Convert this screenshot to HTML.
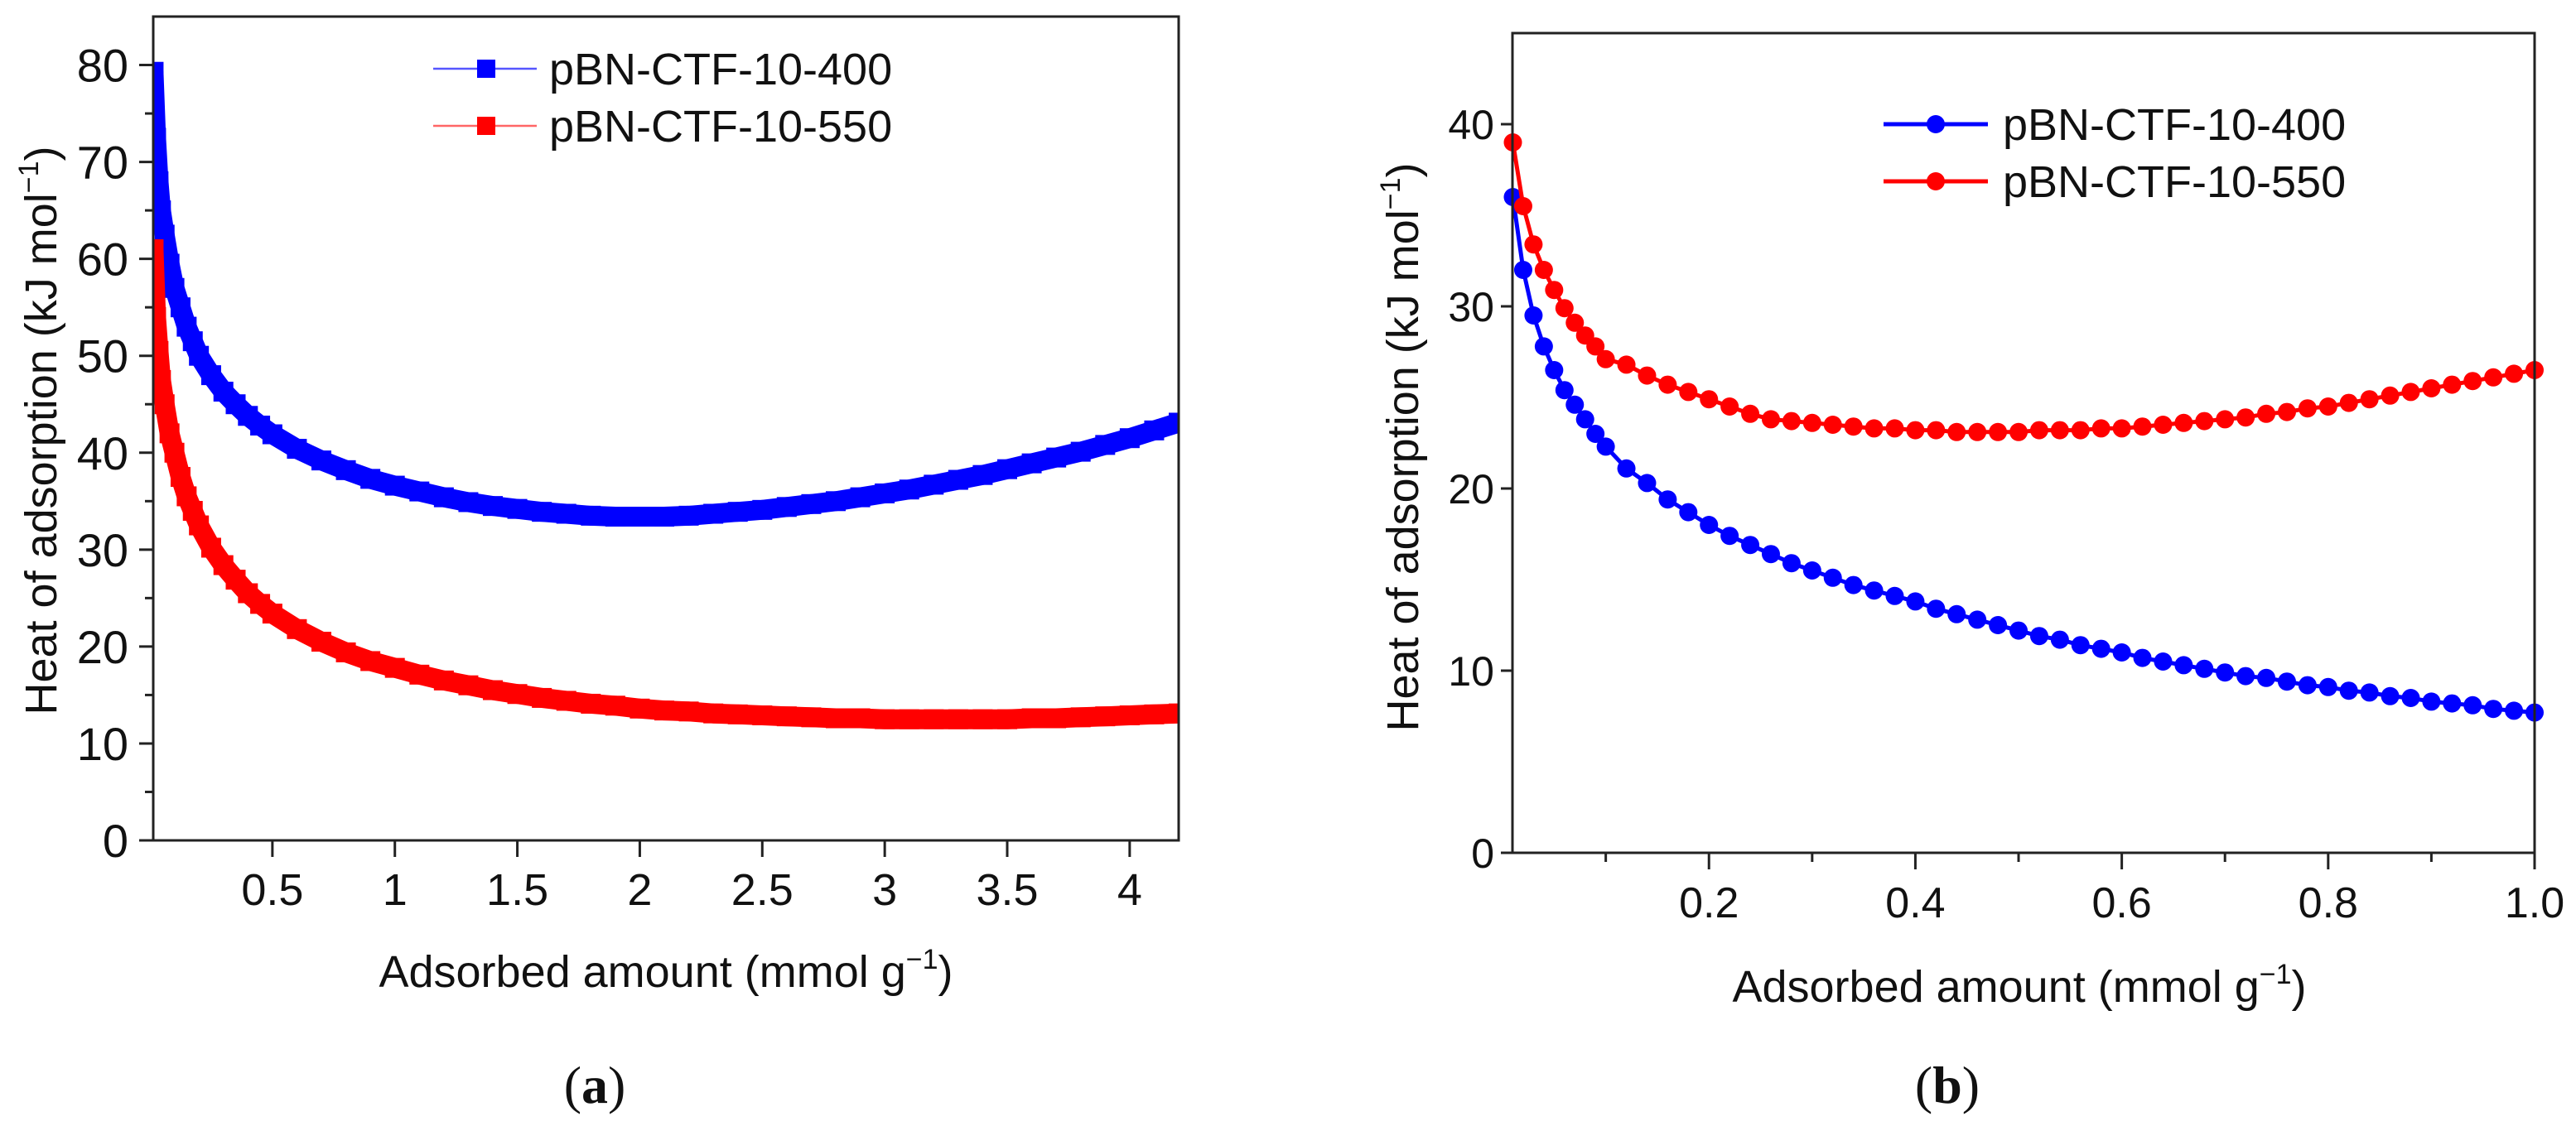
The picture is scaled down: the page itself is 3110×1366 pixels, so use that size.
<!DOCTYPE html>
<html><head><meta charset="utf-8">
<style>
html,body{margin:0;padding:0;background:#fff;}
svg{display:block;font-family:"Liberation Sans",sans-serif;}
</style></head>
<body>
<svg id="fig" width="3110" height="1366" viewBox="0 0 3110 1366" xmlns="http://www.w3.org/2000/svg"></svg>
<script>
// ---- Panel (a) data ----
const aX = [0.015,0.025,0.035,0.045,0.06,0.08,0.1,0.125,0.15,0.175,0.2,0.25,0.3,0.35,0.4,0.45,0.5,0.6,0.7,0.8,0.9,1.0,1.1,1.2,1.3,1.4,1.5,1.6,1.7,1.8,1.9,2.0,2.1,2.2,2.3,2.4,2.5,2.6,2.7,2.8,2.9,3.0,3.1,3.2,3.3,3.4,3.5,3.6,3.7,3.8,3.9,4.0,4.1,4.2];
const aBlue = [79.3,72.5,68,65,62.5,59.5,57,55,53,51.5,50,48,46.3,45,43.8,42.8,41.9,40.4,39.2,38.2,37.3,36.6,36,35.4,34.9,34.5,34.2,33.9,33.7,33.5,33.4,33.4,33.4,33.5,33.7,33.9,34.1,34.4,34.7,35.0,35.4,35.8,36.2,36.7,37.2,37.7,38.3,38.9,39.5,40.1,40.8,41.5,42.3,43.1];
const aRed = [61,54,50.5,47.5,45,42,40,37.5,35.5,34,32.5,30.2,28.4,26.9,25.5,24.4,23.4,21.8,20.5,19.4,18.5,17.8,17.1,16.5,16,15.5,15.1,14.7,14.4,14.1,13.9,13.6,13.4,13.3,13.1,13,12.9,12.8,12.7,12.6,12.6,12.5,12.5,12.5,12.5,12.5,12.5,12.6,12.6,12.7,12.8,12.9,13.0,13.1];
const aXTicks = [0.5,1,1.5,2,2.5,3,3.5,4];
const aXTickLabels = ["0.5","1","1.5","2","2.5","3","3.5","4"];
const aYTicks = [0,10,20,30,40,50,60,70,80];
const aYMinor = [5,15,25,35,45,55,65,75];
const aSeriesNames = ["pBN-CTF-10-400","pBN-CTF-10-550"];

// ---- Panel (b) data ----
const bX = [0.01,0.02,0.03,0.04,0.05,0.06,0.07,0.08,0.09,0.1,0.12,0.14,0.16,0.18,0.2,0.22,0.24,0.26,0.28,0.3,0.32,0.34,0.36,0.38,0.4,0.42,0.44,0.46,0.48,0.5,0.52,0.54,0.56,0.58,0.6,0.62,0.64,0.66,0.68,0.7,0.72,0.74,0.76,0.78,0.8,0.82,0.84,0.86,0.88,0.9,0.92,0.94,0.96,0.98,1.0];
const bBlue = [36,32,29.5,27.8,26.5,25.4,24.6,23.8,23.0,22.3,21.1,20.3,19.4,18.7,18.0,17.4,16.9,16.4,15.9,15.5,15.1,14.7,14.4,14.1,13.8,13.4,13.1,12.8,12.5,12.2,11.9,11.7,11.4,11.2,11.0,10.7,10.5,10.3,10.1,9.9,9.7,9.6,9.4,9.2,9.1,8.9,8.8,8.6,8.5,8.3,8.2,8.1,7.9,7.8,7.7];
const bRed = [39.0,35.5,33.4,32.0,30.9,29.9,29.1,28.4,27.8,27.1,26.8,26.2,25.7,25.3,24.9,24.5,24.1,23.8,23.7,23.6,23.5,23.4,23.3,23.3,23.2,23.2,23.1,23.1,23.1,23.1,23.2,23.2,23.2,23.3,23.3,23.4,23.5,23.6,23.7,23.8,23.9,24.1,24.2,24.4,24.5,24.7,24.9,25.1,25.3,25.5,25.7,25.9,26.1,26.3,26.5];
const bXTicks = [0.2,0.4,0.6,0.8,1.0];
const bXTickLabels = ["0.2","0.4","0.6","0.8","1.0"];
const bXMinor = [0.1,0.3,0.5,0.7,0.9];
const bYTicks = [0,10,20,30,40];

const NS = "http://www.w3.org/2000/svg";
const svg = document.getElementById("fig");
function mk(tag, attrs, parent, text){
  const e = document.createElementNS(NS, tag);
  for (const k in attrs) e.setAttribute(k, attrs[k]);
  if (text !== undefined) e.textContent = text;
  (parent || svg).appendChild(e);
  return e;
}

// ---------- Panel (a) ----------
const A = {l:185, r:1423, t:20, b:1015, xmin:0.0135, xmax:4.2, ymin:0, ymax:85};
const ax = v => A.l + (v - A.xmin) / (A.xmax - A.xmin) * (A.r - A.l);
const ay = v => A.b - (v - A.ymin) / (A.ymax - A.ymin) * (A.b - A.t);
const gA = mk("g", {});



function bandSeries(g, xs, ys, color, name){
  const gs = mk("g", {}, g);
  
  
  let d = "";
  xs.forEach((x,i)=>{ d += (i?"L":"M") + ax(x).toFixed(1) + " " + ay(ys[i]).toFixed(1); });
  const p = mk("path", {d:d, fill:"none", stroke:color, "stroke-width":24, "stroke-linejoin":"round"}, gs);
  
  
  xs.forEach((x,i)=>{
    const r = mk("rect", {x:ax(x)-12, y:ay(ys[i])-12, width:24, height:24, fill:color}, gs);
    
    
  });
}
const clipA = mk("clipPath", {id:"clipA"});
mk("rect", {x:A.l, y:A.t, width:A.r-A.l, height:A.b-A.t}, clipA);
const plotA = mk("g", {"clip-path":"url(#clipA)"}, gA);
bandSeries(plotA, aX, aBlue, "#0000ff", "series-a-400");
bandSeries(plotA, aX, aRed, "#ff0000", "series-a-550");

const frameA = mk("rect", {x:A.l, y:A.t, width:A.r-A.l, height:A.b-A.t, fill:"none", stroke:"#222", "stroke-width":3}, gA);



aYTicks.forEach(v=>{
  const t = mk("line", {x1:A.l-17, x2:A.l, y1:ay(v), y2:ay(v), stroke:"#222", "stroke-width":3}, gA);
  
  
  const l = mk("text", {x:A.l-30, y:ay(v)+20, "font-size":56, "text-anchor":"end", fill:"#111"}, gA, String(v));
  
  
});
aYMinor.forEach(v=>{
  const t = mk("line", {x1:A.l-10, x2:A.l, y1:ay(v), y2:ay(v), stroke:"#222", "stroke-width":3}, gA);
  
  
});
aXTicks.forEach((v,i)=>{
  const t = mk("line", {x1:ax(v), x2:ax(v), y1:A.b, y2:A.b+20, stroke:"#222", "stroke-width":3}, gA);
  
  
  const l = mk("text", {x:ax(v), y:A.b+78, "font-size":54, "text-anchor":"middle", fill:"#111"}, gA, aXTickLabels[i]);
  
  
});
const xtA = mk("text", {x:804, y:1192, "font-size":54, "text-anchor":"middle", fill:"#111"}, gA);


xtA.innerHTML = 'Adsorbed amount (mmol g<tspan dy="-22" font-size="34">−1</tspan><tspan dy="22">)</tspan>';
const ytA = mk("text", {x:0, y:0, "font-size":54, "text-anchor":"middle", fill:"#111", transform:"translate(68,520) rotate(-90)"}, gA);


ytA.innerHTML = 'Heat of adsorption (kJ mol<tspan dy="-22" font-size="34">−1</tspan><tspan dy="22">)</tspan>';

// legend a
const legA = mk("g", {}, gA);


[["#5555ff","#0000ff",83],["#ff6666","#ff0000",152]].forEach((c,i)=>{
  const e = mk("g", {}, legA);
  
  
  mk("line", {x1:523, x2:648, y1:c[2], y2:c[2], stroke:c[0], "stroke-width":2.5}, e);
  mk("rect", {x:576, y:c[2]-11, width:22, height:22, fill:c[1]}, e);
  mk("text", {x:663, y:c[2]+19, "font-size":54, fill:"#111"}, e, aSeriesNames[i]);
});
const capA = mk("text", {x:718, y:1332, "font-size":64, "text-anchor":"middle", fill:"#111", "font-family":"Liberation Serif, serif"}, gA);


capA.innerHTML = '(<tspan font-weight="bold">a</tspan>)';

// ---------- Panel (b) ----------
const B = {l:1826, r:3060, t:40, b:1030, xmin:0.0096, xmax:1.0, ymin:0, ymax:45};
const bx = v => B.l + (v - B.xmin) / (B.xmax - B.xmin) * (B.r - B.l);
const by = v => B.b - (v - B.ymin) / (B.ymax - B.ymin) * (B.b - B.t);
const gB = mk("g", {});



function dotSeries(g, xs, ys, color, name){
  const gs = mk("g", {}, g);
  
  
  let d = "";
  xs.forEach((x,i)=>{ d += (i?"L":"M") + bx(x).toFixed(1) + " " + by(ys[i]).toFixed(1); });
  const p = mk("path", {d:d, fill:"none", stroke:color, "stroke-width":5}, gs);
  
  
  xs.forEach((x,i)=>{
    const c = mk("circle", {cx:bx(x), cy:by(ys[i]), r:11, fill:color}, gs);
    
    
  });
}
dotSeries(gB, bX, bBlue, "#0000ff", "series-b-400");
dotSeries(gB, bX, bRed, "#ff0000", "series-b-550");

const frameB = mk("rect", {x:B.l, y:B.t, width:B.r-B.l, height:B.b-B.t, fill:"none", stroke:"#222", "stroke-width":3}, gB);


bYTicks.forEach(v=>{
  const t = mk("line", {x1:B.l-14, x2:B.l, y1:by(v), y2:by(v), stroke:"#222", "stroke-width":3}, gB);
  
  
  const l = mk("text", {x:B.l-22, y:by(v)+18, "font-size":50, "text-anchor":"end", fill:"#111"}, gB, String(v));
  
  
});
bXTicks.forEach((v,i)=>{
  const t = mk("line", {x1:bx(v), x2:bx(v), y1:B.b, y2:B.b+20, stroke:"#222", "stroke-width":3}, gB);
  
  
  const l = mk("text", {x:bx(v), y:B.b+78, "font-size":52, "text-anchor":"middle", fill:"#111"}, gB, bXTickLabels[i]);
  
  
});
bXMinor.forEach(v=>{
  const t = mk("line", {x1:bx(v), x2:bx(v), y1:B.b, y2:B.b+11, stroke:"#222", "stroke-width":3}, gB);
  
  
});
const xtB = mk("text", {x:2438, y:1210, "font-size":54, "text-anchor":"middle", fill:"#111"}, gB);


xtB.innerHTML = 'Adsorbed amount (mmol g<tspan dy="-22" font-size="34">−1</tspan><tspan dy="22">)</tspan>';
const ytB = mk("text", {x:0, y:0, "font-size":54, "text-anchor":"middle", fill:"#111", transform:"translate(1712,540) rotate(-90)"}, gB);


ytB.innerHTML = 'Heat of adsorption (kJ mol<tspan dy="-22" font-size="34">−1</tspan><tspan dy="22">)</tspan>';

const legB = mk("g", {}, gB);


[["#0000ff",150],["#ff0000",219]].forEach((c,i)=>{
  const e = mk("g", {}, legB);
  
  
  mk("line", {x1:2274, x2:2400, y1:c[1], y2:c[1], stroke:c[0], "stroke-width":5}, e);
  mk("circle", {cx:2337, cy:c[1], r:11, fill:c[0]}, e);
  mk("text", {x:2418, y:c[1]+19, "font-size":54, fill:"#111"}, e, aSeriesNames[i]);
});
const capB = mk("text", {x:2351, y:1332, "font-size":64, "text-anchor":"middle", fill:"#111", "font-family":"Liberation Serif, serif"}, gB);


capB.innerHTML = '(<tspan font-weight="bold">b</tspan>)';
</script>
</body></html>
